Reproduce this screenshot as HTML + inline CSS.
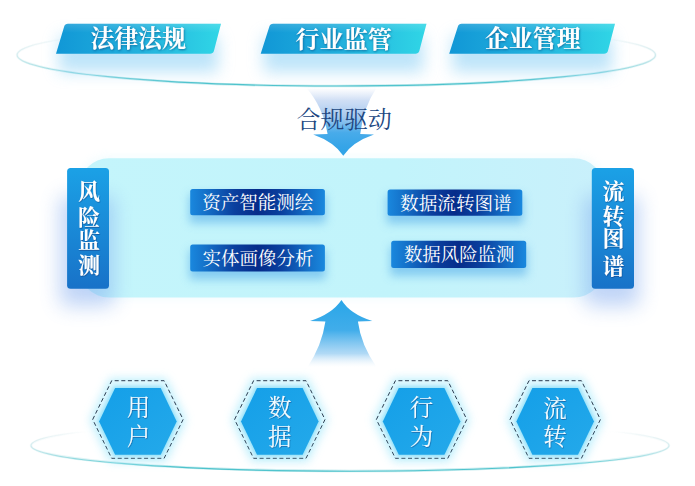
<!DOCTYPE html>
<html><head><meta charset="utf-8"><title>diagram</title>
<style>html,body{margin:0;padding:0;background:#fff;font-family:"Liberation Sans",sans-serif}svg{display:block}</style>
</head><body>
<svg width="695" height="486" viewBox="0 0 695 486">
<defs>

<linearGradient id="bg" x1="0" y1="0" x2="1" y2="0"><stop offset="0" stop-color="#1197d6"/><stop offset="0.5" stop-color="#22b1dd"/><stop offset="1" stop-color="#30d6e6"/></linearGradient>
<linearGradient id="gloss" x1="0" y1="0" x2="0" y2="1"><stop offset="0" stop-color="#fff" stop-opacity="0.14"/><stop offset="0.3" stop-color="#fff" stop-opacity="0"/></linearGradient>
<linearGradient id="bsh" x1="0" y1="0" x2="0" y2="1"><stop offset="0" stop-color="#8fcdf3" stop-opacity="0.85"/><stop offset="1" stop-color="#cfeafa" stop-opacity="0"/></linearGradient>
<linearGradient id="lab" x1="0" y1="0" x2="0" y2="1"><stop offset="0" stop-color="#1ba1e6"/><stop offset="1" stop-color="#1872c8"/></linearGradient>
<linearGradient id="box" x1="0" y1="0" x2="1" y2="0"><stop offset="0" stop-color="#1a88de"/><stop offset="0.12" stop-color="#1470c8"/><stop offset="0.33" stop-color="#0a3f9e"/><stop offset="0.5" stop-color="#062c8a"/><stop offset="0.67" stop-color="#0a3f9e"/><stop offset="0.88" stop-color="#1470c8"/><stop offset="1" stop-color="#1a88de"/></linearGradient>
<linearGradient id="panel" x1="0" y1="0" x2="1" y2="0"><stop offset="0" stop-color="#c4f5fb"/><stop offset="0.6" stop-color="#c2f4fb"/><stop offset="1" stop-color="#c9f0fb"/></linearGradient>
<linearGradient id="darr" x1="0" y1="0" x2="0" y2="1"><stop offset="0" stop-color="#cddcf4" stop-opacity="0"/><stop offset="0.18" stop-color="#c8d9f3" stop-opacity="0.85"/><stop offset="0.42" stop-color="#a5c9ef"/><stop offset="0.66" stop-color="#48abea"/><stop offset="1" stop-color="#2aa0e6"/></linearGradient>
<linearGradient id="uarr" x1="0" y1="0" x2="0" y2="1"><stop offset="0" stop-color="#29a6e8"/><stop offset="0.45" stop-color="#41adea"/><stop offset="0.8" stop-color="#9dd0f3" stop-opacity="0.8"/><stop offset="1" stop-color="#dcecf9" stop-opacity="0"/></linearGradient>
<linearGradient id="hexg" x1="0" y1="0" x2="1" y2="1"><stop offset="0" stop-color="#149fe8"/><stop offset="1" stop-color="#24a9ea"/></linearGradient>
<linearGradient id="ell1" x1="0" y1="0" x2="0" y2="1"><stop offset="0.22" stop-color="#9cc8cf" stop-opacity="0"/><stop offset="0.5" stop-color="#8fcfd6" stop-opacity="0.75"/><stop offset="0.8" stop-color="#4fc3cc" stop-opacity="1"/></linearGradient>
<linearGradient id="mh" x1="0" y1="0" x2="1" y2="0"><stop offset="0" stop-color="#fff" stop-opacity="0.45"/><stop offset="0.25" stop-color="#fff" stop-opacity="1"/><stop offset="0.75" stop-color="#fff" stop-opacity="1"/><stop offset="1" stop-color="#fff" stop-opacity="0.45"/></linearGradient>
<mask id="mk" maskUnits="userSpaceOnUse" x="0" y="0" width="695" height="486"><rect x="10" y="0" width="670" height="486" fill="url(#mh)"/></mask>
<filter id="b2" x="-50%" y="-50%" width="200%" height="200%"><feGaussianBlur stdDeviation="2"/></filter>
<filter id="b4" x="-50%" y="-50%" width="200%" height="200%"><feGaussianBlur stdDeviation="4"/></filter>
<filter id="b5" x="-50%" y="-50%" width="200%" height="200%"><feGaussianBlur stdDeviation="5"/></filter>
<filter id="b6" x="-50%" y="-50%" width="200%" height="200%"><feGaussianBlur stdDeviation="6"/></filter>
<filter id="b8" x="-50%" y="-100%" width="200%" height="300%"><feGaussianBlur stdDeviation="8"/></filter>
<filter id="b9" x="-80%" y="-50%" width="260%" height="200%"><feGaussianBlur stdDeviation="10"/></filter>
<filter id="ts" x="-10%" y="-20%" width="120%" height="150%"><feDropShadow dx="0.5" dy="1" stdDeviation="0.9" flood-color="#0b4f86" flood-opacity="0.75"/></filter>
<filter id="ts2" x="-10%" y="-20%" width="120%" height="150%"><feDropShadow dx="0.5" dy="0.8" stdDeviation="0.7" flood-color="#083070" flood-opacity="0.6"/></filter>

</defs>
<rect width="695" height="486" fill="#fff"/>
<g mask="url(#mk)">
<ellipse cx="336.3" cy="55" rx="319.2" ry="31" fill="none" stroke="url(#ell1)" stroke-width="2.6" opacity="0.3"/>
<ellipse cx="336.3" cy="55" rx="319.2" ry="31" fill="none" stroke="url(#ell1)" stroke-width="1.1"/>
</g>
<rect x="59.0" y="36" width="159.0" height="36" fill="#92d3f6" opacity="0.6" filter="url(#b8)"/>
<rect x="263.7" y="36" width="159.7" height="36" fill="#92d3f6" opacity="0.6" filter="url(#b8)"/>
<rect x="452.2" y="36" width="159.8" height="36" fill="#92d3f6" opacity="0.6" filter="url(#b8)"/>
<path d="M68.0,23.7 L221.0,23.7 L213.9,51 Q213.0,53.8 210.0,53.8 L56.0,53.8 L64.2,26.5 Q65.0,23.7 68.0,23.7 Z" fill="url(#bg)"/>
<path d="M68.0,23.7 L221.0,23.7 L213.9,51 Q213.0,53.8 210.0,53.8 L56.0,53.8 L64.2,26.5 Q65.0,23.7 68.0,23.7 Z" fill="url(#gloss)"/>
<text x="138.1" y="47.35" font-size="23.87" font-weight="bold" fill="#fff" text-anchor="middle" filter="url(#ts)" font-family="&quot;Liberation Serif&quot;, &quot;Noto Serif CJK SC&quot;, serif">法律法规</text>
<path d="M273.2,23.7 L426.5,23.7 L419.3,51 Q418.4,53.8 415.4,53.8 L260.7,53.8 L269.4,26.5 Q270.2,23.7 273.2,23.7 Z" fill="url(#bg)"/>
<path d="M273.2,23.7 L426.5,23.7 L419.3,51 Q418.4,53.8 415.4,53.8 L260.7,53.8 L269.4,26.5 Q270.2,23.7 273.2,23.7 Z" fill="url(#gloss)"/>
<text x="343.7" y="47.5" font-size="24.09" font-weight="bold" fill="#fff" text-anchor="middle" filter="url(#ts)" font-family="&quot;Liberation Serif&quot;, &quot;Noto Serif CJK SC&quot;, serif">行业监管</text>
<path d="M461.7,23.7 L615.0,23.7 L607.9,51 Q607.0,53.8 604.0,53.8 L449.2,53.8 L457.9,26.5 Q458.7,23.7 461.7,23.7 Z" fill="url(#bg)"/>
<path d="M461.7,23.7 L615.0,23.7 L607.9,51 Q607.0,53.8 604.0,53.8 L449.2,53.8 L457.9,26.5 Q458.7,23.7 461.7,23.7 Z" fill="url(#gloss)"/>
<text x="532.8" y="47.46" font-size="23.95" font-weight="bold" fill="#fff" text-anchor="middle" filter="url(#ts)" font-family="&quot;Liberation Serif&quot;, &quot;Noto Serif CJK SC&quot;, serif">企业管理</text>
<path d="M306.5,88 Q323,107 327.6,134 L313.2,134.6 Q334,142 343.3,155.8 Q352.5,142 374,134.6 L360.2,134 Q363.5,107 376.5,88 Z" fill="url(#darr)"/>
<text x="344.3" y="127.78" font-size="23.77" fill="#20467f" text-anchor="middle" font-family="&quot;Liberation Serif&quot;, &quot;Noto Serif CJK SC&quot;, serif">合规驱动</text>
<rect x="77" y="156" width="529" height="143.5" rx="31" fill="#bdf0fb" opacity="0.18" filter="url(#b4)"/>
<rect x="79" y="158.2" width="525" height="139.4" rx="30" fill="url(#panel)"/>
<path d="M341.5,300 Q350,314 372.3,321 L357.9,321.5 Q361,345 376.6,367 L307.6,367 Q322,345 325.4,321.5 L310,321 Q332,314 341.5,300 Z" fill="url(#uarr)"/>
<rect x="60.1" y="196" width="53.9" height="110" rx="6" fill="#7aa6ee" opacity="0.48" filter="url(#b9)"/>
<rect x="67.1" y="167.9" width="41.9" height="120.8" rx="3.5" fill="url(#lab)"/>
<g fill="#fff" filter="url(#ts2)" font-size="22" font-weight="bold" text-anchor="middle" font-family="&quot;Liberation Serif&quot;, &quot;Noto Serif CJK SC&quot;, serif"><text x="89" y="199.22">风</text><text x="89" y="224.65">险</text><text x="89" y="248.08">监</text><text x="89" y="272.81">测</text></g>
<rect x="584.8" y="196" width="54.2" height="110" rx="6" fill="#7aa6ee" opacity="0.48" filter="url(#b9)"/>
<rect x="591.8" y="167.9" width="42.2" height="120.8" rx="3.5" fill="url(#lab)"/>
<g fill="#fff" filter="url(#ts2)" font-size="22" font-weight="bold" text-anchor="middle" font-family="&quot;Liberation Serif&quot;, &quot;Noto Serif CJK SC&quot;, serif"><text x="613.5" y="199.3">流</text><text x="613.5" y="223.94">转</text><text x="613.5" y="246.25">图</text><text x="613.5" y="273.8">谱</text></g>
<rect x="189.2" y="193.9" width="136.7" height="29.4" rx="3" fill="#5ab0ea" opacity="0.6" filter="url(#b5)"/>
<rect x="190.2" y="188.9" width="134.7" height="26.4" rx="2.5" fill="url(#box)"/>
<text x="257.8" y="209.46" font-size="18.54" fill="#fff" text-anchor="middle" font-family="&quot;Liberation Serif&quot;, &quot;Noto Serif CJK SC&quot;, serif">资产智能测绘</text>
<rect x="189.2" y="249.6" width="136.7" height="29.9" rx="3" fill="#5ab0ea" opacity="0.6" filter="url(#b5)"/>
<rect x="190.2" y="244.6" width="134.7" height="26.9" rx="2.5" fill="url(#box)"/>
<text x="258.1" y="265.33" font-size="18.52" fill="#fff" text-anchor="middle" font-family="&quot;Liberation Serif&quot;, &quot;Noto Serif CJK SC&quot;, serif">实体画像分析</text>
<rect x="386.6" y="194.4" width="136.7" height="29.4" rx="3" fill="#5ab0ea" opacity="0.6" filter="url(#b5)"/>
<rect x="387.6" y="189.4" width="134.7" height="26.4" rx="2.5" fill="url(#box)"/>
<text x="455.9" y="209.78" font-size="18.63" fill="#fff" text-anchor="middle" font-family="&quot;Liberation Serif&quot;, &quot;Noto Serif CJK SC&quot;, serif">数据流转图谱</text>
<rect x="390.2" y="245.7" width="137.0" height="30.2" rx="3" fill="#5ab0ea" opacity="0.6" filter="url(#b5)"/>
<rect x="391.2" y="240.7" width="135.0" height="27.2" rx="2.5" fill="url(#box)"/>
<text x="459.2" y="261.3" font-size="18.45" fill="#fff" text-anchor="middle" font-family="&quot;Liberation Serif&quot;, &quot;Noto Serif CJK SC&quot;, serif">数据风险监测</text>
<g mask="url(#mk)">
<ellipse cx="350" cy="445.5" rx="319" ry="25.5" fill="none" stroke="url(#ell1)" stroke-width="2.6" opacity="0.3"/>
<ellipse cx="350" cy="445.5" rx="319" ry="25.7" fill="none" stroke="url(#ell1)" stroke-width="1.1"/>
</g>
<polygon points="89.9,420.0 109.9,378.5 165.9,378.5 185.9,420.0 165.9,461.5 109.9,461.5" fill="#a8eafb" opacity="0.75" filter="url(#b5)"/>
<polygon points="92.7,419.5 111.7,380.7 164.1,380.7 183.1,419.5 164.1,458.3 111.7,458.3" fill="#dcf7fe" stroke="#2c3c50" stroke-width="1" stroke-dasharray="4 2.6"/>
<polygon points="97.4,421.4 113.9,386.4 161.9,386.4 178.4,421.4 161.9,456.4 113.9,456.4" fill="#7fdaf8" opacity="0.85" filter="url(#b2)"/>
<polygon points="99.1,421.4 115.1,388.1 160.7,388.1 176.7,421.4 160.7,454.7 115.1,454.7" fill="url(#hexg)"/>
<g fill="#f2fbff" filter="url(#ts2)" font-size="23.5" text-anchor="middle" font-family="&quot;Liberation Serif&quot;, &quot;Noto Serif CJK SC&quot;, serif"><text x="138.6" y="416.08">用</text><text x="138.6" y="445.05">户</text></g>
<polygon points="231.8,420.0 251.8,378.5 307.8,378.5 327.8,420.0 307.8,461.5 251.8,461.5" fill="#a8eafb" opacity="0.75" filter="url(#b5)"/>
<polygon points="234.6,419.5 253.6,380.7 306.0,380.7 325.0,419.5 306.0,458.3 253.6,458.3" fill="#dcf7fe" stroke="#2c3c50" stroke-width="1" stroke-dasharray="4 2.6"/>
<polygon points="239.3,421.4 255.8,386.4 303.8,386.4 320.3,421.4 303.8,456.4 255.8,456.4" fill="#7fdaf8" opacity="0.85" filter="url(#b2)"/>
<polygon points="241.0,421.4 257.0,388.1 302.6,388.1 318.6,421.4 302.6,454.7 257.0,454.7" fill="url(#hexg)"/>
<g fill="#f2fbff" filter="url(#ts2)" font-size="23.5" text-anchor="middle" font-family="&quot;Liberation Serif&quot;, &quot;Noto Serif CJK SC&quot;, serif"><text x="279.8" y="416.42">数</text><text x="279.8" y="444.93">据</text></g>
<polygon points="373.6,420.0 393.6,378.5 449.6,378.5 469.6,420.0 449.6,461.5 393.6,461.5" fill="#a8eafb" opacity="0.75" filter="url(#b5)"/>
<polygon points="376.4,419.5 395.4,380.7 447.8,380.7 466.8,419.5 447.8,458.3 395.4,458.3" fill="#dcf7fe" stroke="#2c3c50" stroke-width="1" stroke-dasharray="4 2.6"/>
<polygon points="381.1,421.4 397.6,386.4 445.6,386.4 462.1,421.4 445.6,456.4 397.6,456.4" fill="#7fdaf8" opacity="0.85" filter="url(#b2)"/>
<polygon points="382.8,421.4 398.8,388.1 444.4,388.1 460.4,421.4 444.4,454.7 398.8,454.7" fill="url(#hexg)"/>
<g fill="#f2fbff" filter="url(#ts2)" font-size="23.5" text-anchor="middle" font-family="&quot;Liberation Serif&quot;, &quot;Noto Serif CJK SC&quot;, serif"><text x="421.6" y="416.39">行</text><text x="421.6" y="444.98">为</text></g>
<polygon points="507.2,420.0 527.2,378.5 583.2,378.5 603.2,420.0 583.2,461.5 527.2,461.5" fill="#a8eafb" opacity="0.75" filter="url(#b5)"/>
<polygon points="510.0,419.5 529.0,380.7 581.4,380.7 600.4,419.5 581.4,458.3 529.0,458.3" fill="#dcf7fe" stroke="#2c3c50" stroke-width="1" stroke-dasharray="4 2.6"/>
<polygon points="514.7,421.4 531.2,386.4 579.2,386.4 595.7,421.4 579.2,456.4 531.2,456.4" fill="#7fdaf8" opacity="0.85" filter="url(#b2)"/>
<polygon points="516.4,421.4 532.4,388.1 578.0,388.1 594.0,421.4 578.0,454.7 532.4,454.7" fill="url(#hexg)"/>
<g fill="#f2fbff" filter="url(#ts2)" font-size="23.5" text-anchor="middle" font-family="&quot;Liberation Serif&quot;, &quot;Noto Serif CJK SC&quot;, serif"><text x="555.1" y="416.5">流</text><text x="555.1" y="444.95">转</text></g>
</svg>
</body></html>
